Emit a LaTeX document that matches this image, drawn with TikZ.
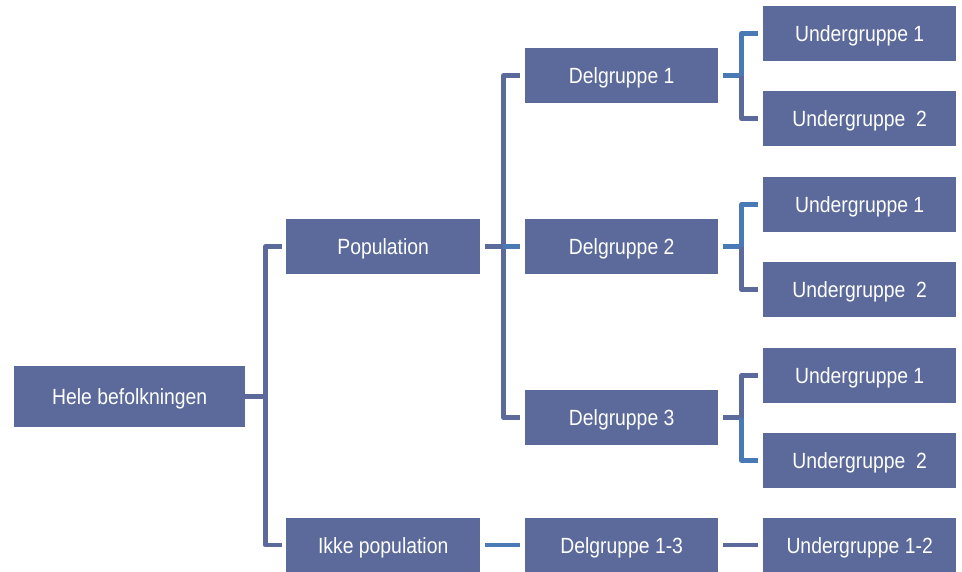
\documentclass[tikz,border=0pt]{standalone}
\usepackage{fontspec}
\setmainfont{Liberation Sans}[FakeStretch=0.88]
\definecolor{boxc}{HTML}{5B6A9B}
\definecolor{lnblue}{HTML}{4A7AB5}
\tikzset{
  box/.style={fill=boxc, draw=none, text=white, anchor=north west,
    minimum width=193pt, minimum height=55pt, inner sep=0pt,
    text height=15.8pt, text depth=0pt, font=\fontsize{22pt}{24pt}\selectfont},
  conn/.style={draw=boxc, line width=4.5pt, line join=round, line cap=butt},
  connb/.style={conn, draw=lnblue}
}
\begin{document}
\begin{tikzpicture}[x=1pt,y=-1pt]
\useasboundingbox (0,0) rectangle (962,572);
% level 0
\node[box, minimum width=231pt, minimum height=61pt] (hele) at (14,366) {Hele befolkningen};
% level 1
\node[box, minimum width=194pt] (pop) at (286,219) {Population};
\node[box, minimum width=194pt, minimum height=54pt] (ikke) at (286,518) {Ikke population};
% level 2
\node[box] (d1) at (525,48) {Delgruppe 1};
\node[box] (d2) at (525,219) {Delgruppe 2};
\node[box] (d3) at (525,390) {Delgruppe 3};
\node[box, minimum height=54pt] (d13) at (525,518) {Delgruppe 1-3};
% level 3
\node[box] (u11) at (763,6) {Undergruppe 1};
\node[box] (u12) at (763,91) {Undergruppe\ \ 2};
\node[box] (u21) at (763,177) {Undergruppe 1};
\node[box] (u22) at (763,262) {Undergruppe\ \ 2};
\node[box] (u31) at (763,348) {Undergruppe 1};
\node[box] (u32) at (763,433) {Undergruppe\ \ 2};
\node[box, minimum height=54pt] (u13) at (763,518) {Undergruppe 1-2};
% connectors level 0 -> 1
\draw[conn] (hele.east) -- ++(20,0) |- ([xshift=-4pt]pop.west);
\draw[conn] (hele.east) -- ++(20,0) |- ([xshift=-4pt]ikke.west);
% connectors level 1 -> 2
\draw[conn] ([xshift=5pt]pop.east) -- ++(18,0) |- ([xshift=-5pt]d1.west);
\draw[conn] ([xshift=5pt]pop.east) -- ++(18,0) |- ([xshift=-5pt]d3.west);
\draw[connb] ([xshift=23pt]pop.east) -- ([xshift=-5pt]d2.west);
\draw[connb] ([xshift=5pt]ikke.east) -- ([xshift=-5pt]d13.west);
% connectors level 2 -> 3
\draw[connb] ([xshift=5pt]d1.east) -- ++(18,0) |- ([xshift=-5pt]u11.west);
\draw[conn] ([xshift=23pt]d1.east) |- ([xshift=-5pt]u12.west);
\draw[connb] ([xshift=5pt]d2.east) -- ++(18,0) |- ([xshift=-5pt]u21.west);
\draw[conn] ([xshift=23pt]d2.east) |- ([xshift=-5pt]u22.west);
\draw[conn] ([xshift=5pt]d3.east) -- ++(18,0) |- ([xshift=-5pt]u31.west);
\draw[connb] ([xshift=23pt]d3.east) |- ([xshift=-5pt]u32.west);
\draw[conn] ([xshift=5pt]d13.east) -- ([xshift=-5pt]u13.west);
\end{tikzpicture}
\end{document}
